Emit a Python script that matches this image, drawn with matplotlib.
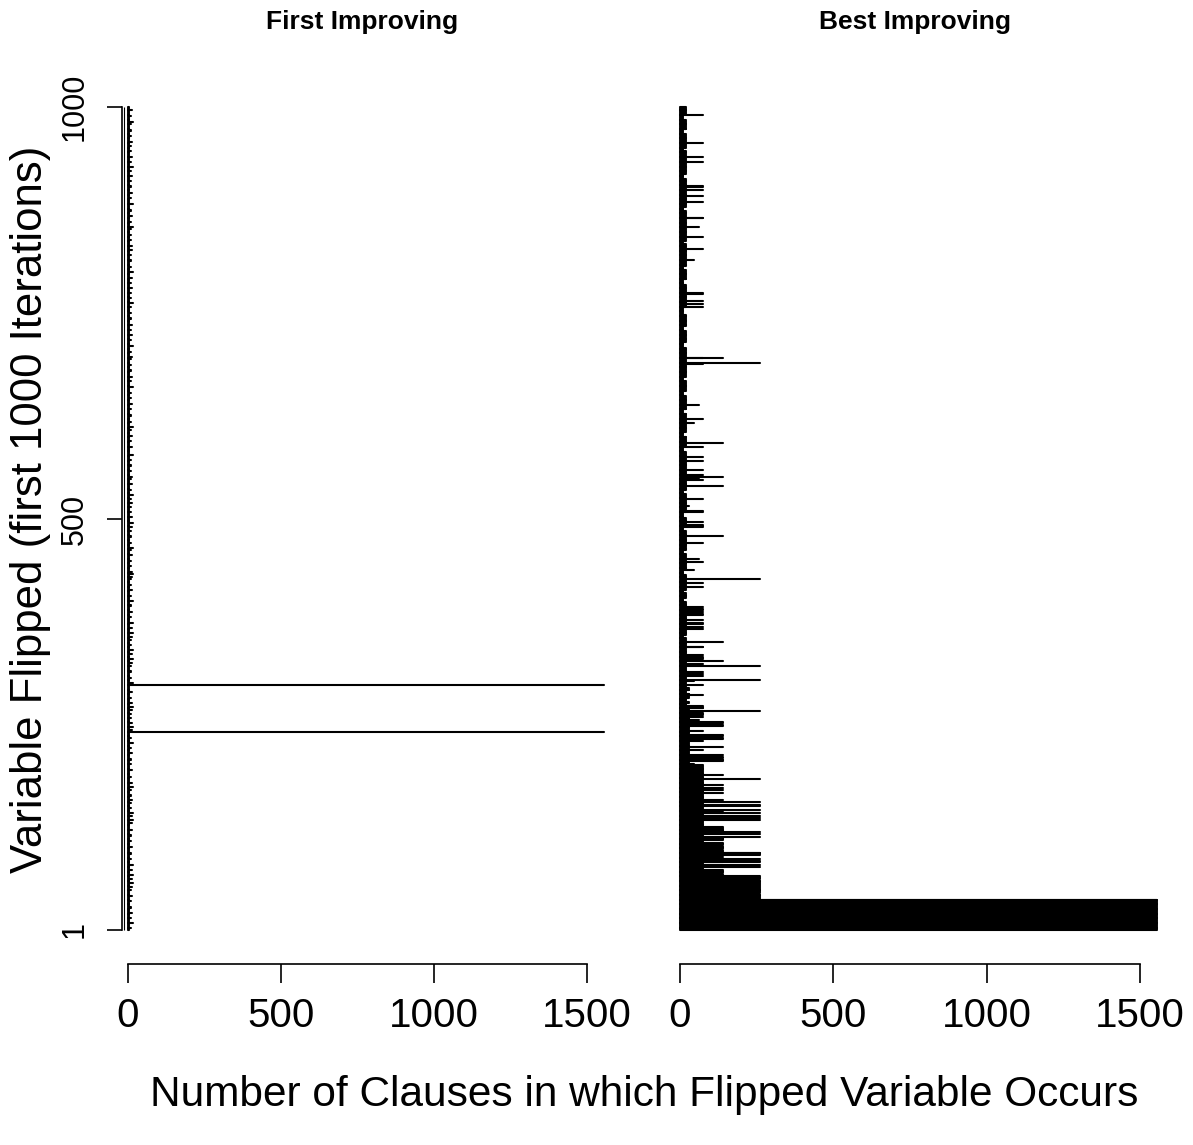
import numpy as np
import matplotlib
matplotlib.use("Agg")
import matplotlib.pyplot as plt

plt.rcParams['font.family'] = ['Liberation Sans', 'DejaVu Sans']

# ---- labels and ticks -------------------------------------------------------
TITLES = ["First Improving", "Best Improving"]
X_LABEL = "Number of Clauses in which Flipped Variable Occurs"
Y_LABEL = "Variable Flipped (first 1000 Iterations)"
X_TICKS = [0, 500, 1000, 1500]
Y_TICKS = [1, 500, 1000]

# ---- clause counts of the flipped variable, iteration 1..1000 ---------------
# stored as (number of consecutive iterations, clause count)
FIRST_RUNS = [
    (3, 6), (1, 11), (4, 6), (1, 19),
    (5, 6), (1, 11), (6, 6), (1, 15), (5, 6), (2, 11), (6, 6), (1, 11),
    (5, 6), (1, 15), (6, 6), (1, 11), (3, 6),
    (1, 15), (4, 6), (1, 19), (4, 6), (1, 15), (4, 6), (1, 19), (5, 6),
    (1, 15), (5, 6), (1, 19),
    (6, 6), (1, 11), (5, 6), (2, 11), (7, 6), (1, 15), (6, 6), (1, 11),
    (5, 6), (2, 11), (6, 6), (1, 15), (7, 6),
    (1, 15), (3, 6), (1, 19), (3, 6), (1, 15), (3, 6), (1, 19),
    (5, 6), (1, 11), (5, 6), (1, 11), (3, 6), (1, 15),
    (4, 6), (2, 11), (5, 6), (1, 11), (3, 6), (1, 19), (4, 6), (1, 15),
    (6, 6), (1, 11), (7, 6), (1, 15),
    (6, 6), (1, 11), (5, 6), (2, 11), (6, 6), (1, 15), (5, 6), (1, 11),
    (5, 6), (1, 19),
    (5, 6), (1, 11), (7, 6), (1, 1555), (1, 6), (1, 15), (3, 6), (1, 19),
    (3, 6), (1, 15),
    (5, 6), (1, 11), (4, 6), (1, 11), (4, 6), (1, 15), (3, 6), (1, 19),
    (4, 6), (1, 15),
    (5, 6), (1, 11), (6, 6), (1, 15), (7, 6), (1, 1555), (2, 6), (1, 19),
    (5, 6), (1, 11), (6, 6), (2, 11), (5, 6), (1, 11), (3, 6),
    (1, 15), (4, 6), (1, 19), (5, 6), (1, 15), (4, 6), (1, 19),
    (5, 6), (1, 11), (5, 6), (1, 11), (3, 6), (1, 15), (4, 6), (1, 19),
    (5, 6), (1, 15), (5, 6), (1, 19),
    (6, 6), (1, 11), (5, 6), (1, 15), (6, 6), (2, 11), (5, 6), (1, 19),
    (5, 6), (1, 11), (6, 6), (1, 15), (5, 6), (1, 11), (6, 6), (1, 11),
    (2, 6), (1, 15), (2, 6), (1, 19), (2, 6), (1, 15),
    (6, 6), (1, 11), (5, 6), (1, 11), (6, 6), (1, 15), (5, 6), (1, 11),
    (2, 6), (1, 19),
    (5, 6), (1, 11), (6, 6), (2, 11), (5, 6), (1, 11), (4, 6), (1, 15),
    (4, 6), (1, 19), (6, 6), (1, 15),
    (6, 6), (1, 11), (5, 6), (1, 11), (3, 6), (1, 15),
    (4, 6), (1, 11), (4, 6), (1, 19),
    (5, 6), (1, 11), (6, 6), (1, 15), (5, 6), (1, 11), (2, 6), (1, 15),
    (6, 6), (1, 11), (5, 6), (2, 11), (6, 6), (1, 11), (5, 6), (1, 19),
    (9, 6), (1, 15),
    (6, 6), (1, 11), (5, 6), (1, 15), (6, 6), (1, 11), (3, 6), (1, 19),
    (5, 6), (1, 11), (6, 6), (2, 11), (6, 6), (1, 11), (6, 6), (1, 15),
    (6, 6), (1, 11), (5, 6), (1, 11), (6, 6), (1, 19),
    (6, 6), (1, 11), (5, 6), (1, 15), (6, 6), (2, 11), (5, 6), (1, 11),
    (6, 6), (1, 11), (2, 6), (1, 15),
    (5, 6), (1, 11), (6, 6), (1, 19), (6, 6), (1, 11), (5, 6), (1, 15),
    (6, 6), (1, 11), (5, 6), (1, 15), (6, 6), (2, 11), (5, 6), (1, 11),
    (6, 6), (1, 11), (4, 6), (1, 19),
    (5, 6), (1, 11), (6, 6), (1, 11), (4, 6), (1, 15),
    (6, 6), (1, 11), (5, 6), (1, 15), (6, 6), (1, 19),
    (5, 6), (1, 11), (6, 6), (2, 11), (5, 6), (1, 11), (6, 6), (1, 15),
    (4, 6), (1, 15),
    (6, 6), (1, 11), (5, 6), (1, 11), (6, 6), (1, 11), (2, 6), (1, 19),
    (5, 6), (1, 11), (6, 6), (1, 15), (5, 6), (2, 11), (7, 6), (1, 19),
    (6, 6), (1, 11), (5, 6), (1, 15), (6, 6), (2, 11), (5, 6), (1, 11),
    (6, 6), (1, 15), (5, 6), (1, 11), (3, 6), (1, 19),
    (6, 6), (1, 11), (5, 6), (1, 15), (6, 6), (1, 11), (5, 6), (1, 11),
    (4, 6), (1, 15),
    (6, 6), (1, 11), (5, 6), (2, 11), (6, 6), (1, 11), (2, 6), (1, 19),
    (6, 6), (1, 11), (6, 6), (1, 15), (4, 6),
]

BEST_RUNS = [
    (38, 1555), (6, 261), (1, 141), (8, 261), (1, 141), (7, 261), (1, 76),
    (4, 261), (3, 141), (1, 76), (4, 141), (3, 76), (1, 261), (1, 141),
    (1, 261), (2, 76), (1, 261), (1, 141), (1, 261), (1, 76), (1, 261),
    (2, 76), (1, 141), (1, 76), (4, 261), (3, 141), (1, 76), (4, 141),
    (1, 76), (3, 141), (2, 76), (4, 141), (1, 261), (2, 76), (1, 261),
    (2, 76), (1, 261), (6, 141), (7, 76), (1, 261), (1, 76), (1, 141),
    (1, 261), (1, 76), (1, 141), (1, 261), (2, 76), (1, 261), (1, 76),
    (1, 141), (1, 76), (1, 261), (3, 76), (1, 261), (1, 76), (1, 261),
    (2, 76), (1, 261), (2, 76), (1, 141), (7, 76), (1, 141), (3, 76),
    (1, 141), (2, 76), (1, 141), (2, 76), (1, 141), (6, 76), (1, 261),
    (4, 76), (1, 141), (12, 76), (1, 32), (1, 46), (2, 32), (3, 141),
    (1, 76), (2, 141), (1, 76), (1, 141), (5, 32), (1, 76), (3, 32),
    (1, 141), (6, 32), (1, 76), (2, 32), (2, 141), (1, 76), (1, 141),
    (1, 76), (1, 141), (4, 32), (1, 76), (5, 32), (2, 141), (1, 76),
    (2, 141), (2, 32), (1, 65), (3, 32), (1, 76), (1, 32), (2, 76),
    (1, 32), (1, 76), (1, 32), (1, 261), (2, 32), (4, 76), (3, 20),
    (2, 32), (4, 20), (3, 32), (1, 76), (2, 32), (3, 20), (4, 32), (3, 20),
    (1, 76), (3, 20), (1, 46), (1, 20), (1, 261), (4, 20), (1, 76), (1, 20),
    (1, 76), (1, 20), (1, 76), (6, 20), (1, 261), (2, 20), (1, 76), (2, 20),
    (1, 141), (2, 20), (2, 76), (1, 20), (1, 76), (1, 20), (1, 76), (8, 20),
    (2, 76), (5, 20), (1, 141), (4, 20), (3, 12), (8, 20), (1, 76), (1, 20),
    (1, 76), (2, 20), (1, 76), (1, 20), (1, 76), (2, 20), (1, 76), (5, 20),
    (1, 76), (1, 20), (1, 76), (1, 20), (1, 76), (1, 20), (1, 76), (1, 20),
    (1, 76), (1, 20), (1, 76), (6, 20), (4, 12), (7, 20), (3, 12), (4, 20),
    (1, 76), (3, 20), (1, 76), (4, 20), (1, 261), (5, 20), (5, 12), (1, 46),
    (9, 20), (1, 76), (3, 20), (1, 65), (5, 20), (4, 12), (9, 20), (1, 76),
    (7, 20), (1, 141), (6, 20), (4, 12), (2, 76), (1, 20), (1, 76), (2, 20),
    (1, 76), (5, 20), (6, 12), (1, 76), (1, 20), (1, 76), (5, 20), (1, 32),
    (7, 20), (1, 76), (6, 20), (4, 12), (5, 20), (1, 141), (6, 20), (1, 76),
    (1, 65), (2, 20), (1, 141), (1, 20), (1, 76), (5, 20), (1, 76), (10, 20),
    (1, 76), (4, 20), (1, 76), (6, 20), (6, 12), (1, 76), (3, 20), (1, 141),
    (8, 20), (5, 12), (11, 20), (1, 46), (4, 20), (1, 76), (6, 20), (4, 12),
    (6, 20), (1, 65), (10, 20), (6, 12), (12, 20), (5, 12), (15, 20),
    (1, 76), (1, 261), (5, 20), (1, 141), (1, 76), (12, 20), (6, 12),
    (14, 20), (5, 12), (15, 20), (8, 12), (1, 76), (3, 20), (1, 76),
    (3, 20), (1, 76), (7, 20), (2, 76), (10, 20), (6, 12), (12, 20),
    (4, 12), (8, 20), (1, 46), (12, 20), (1, 76), (6, 20), (3, 12), (5, 20),
    (1, 76), (11, 20), (1, 65), (9, 20), (2, 76), (8, 20), (4, 12), (6, 20),
    (1, 76), (6, 20), (1, 76), (6, 20), (1, 76), (3, 20), (2, 76), (9, 20),
    (5, 12), (14, 20), (1, 76), (5, 20), (1, 76), (8, 20), (3, 12), (6, 20),
    (1, 76), (10, 20), (5, 12), (12, 20), (6, 12), (1, 76), (9, 20),
]


def expand(runs):
    counts = [c for c, _ in runs]
    values = [v for _, v in runs]
    return np.repeat(values, counts)


W, H = 1193, 1145
DPI = 100
fig = plt.figure(figsize=(W / DPI, H / DPI), dpi=DPI)
fig.patch.set_facecolor("white")


def px_axes(left, right, top, bottom):
    return fig.add_axes([left / W, 1 - bottom / H,
                         (right - left) / W, (bottom - top) / H])


def pt(px):
    return px * 72.0 / DPI


# panel geometry (pixels): x of value 0 / 1500, title centre
panels = [
    dict(left=121.5, right=620.0, x0=127.5, x1500=587.3, yaxis=True,
         title_x=362),
    dict(left=670.0, right=1175.0, x0=679.5, x1500=1140.0, yaxis=False,
         title_x=915),
]
TOP_PX, BOTTOM_PX = 95.0, 940.0
Y1_PX, Y1000_PX = 930.0, 107.2
XAXIS_PX = 964.0

data = [expand(FIRST_RUNS), expand(BEST_RUNS)]

for p, vals, title in zip(panels, data, TITLES):
    ax = px_axes(p["left"], p["right"], TOP_PX, BOTTOM_PX)
    sx = (p["x1500"] - p["x0"]) / 1500.0
    ax.set_xlim((p["left"] - p["x0"]) / sx, (p["right"] - p["x0"]) / sx)
    sy = (Y1_PX - Y1000_PX) / 999.0
    ax.set_ylim(1 + (Y1_PX - BOTTOM_PX) / sy, 1 + (Y1_PX - TOP_PX) / sy)

    iters = np.arange(1, len(vals) + 1)
    ax.hlines(iters, 0, vals, colors="black", linewidth=1.5,
              capstyle="round", zorder=3)

    for side in ("top", "right"):
        ax.spines[side].set_visible(False)
    ax.spines["bottom"].set_position(("outward", pt(XAXIS_PX - BOTTOM_PX)))
    ax.spines["bottom"].set_bounds(0, 1500)
    ax.spines["bottom"].set_linewidth(1.2)
    ax.set_xticks(X_TICKS)
    ax.set_xticklabels([str(t) for t in X_TICKS])
    ax.tick_params(axis="x", length=pt(19), width=1.2, labelsize=29, pad=10)

    if p["yaxis"]:
        ax.spines["left"].set_bounds(1, 1000)
        ax.spines["left"].set_linewidth(1.2)
        ax.set_yticks(Y_TICKS)
        ax.set_yticklabels([str(t) for t in Y_TICKS], rotation=90,
                           va="center")
        ax.tick_params(axis="y", length=pt(15), width=1.2, labelsize=22,
                       pad=12)
        # thin inner rule just inside the axis line
        ax.vlines((124.3 - p["x0"]) / sx, 1, 1000, colors="black",
                  linewidth=0.8, zorder=2)
    else:
        ax.spines["left"].set_visible(False)
        ax.set_yticks([])

    ax.set_facecolor("none")
    fig.text(p["title_x"] / W, 1 - 22 / H, title,
             ha="center", va="center", fontsize=19, fontweight="bold")

fig.text(644 / W, 1 - 1095 / H, X_LABEL, ha="center", va="center",
         fontsize=30.5)
fig.text(31 / W, 1 - 509 / H, Y_LABEL, ha="center", va="center",
         fontsize=31.5, rotation=90)

fig.savefig("out.png", dpi=DPI, facecolor="white")
